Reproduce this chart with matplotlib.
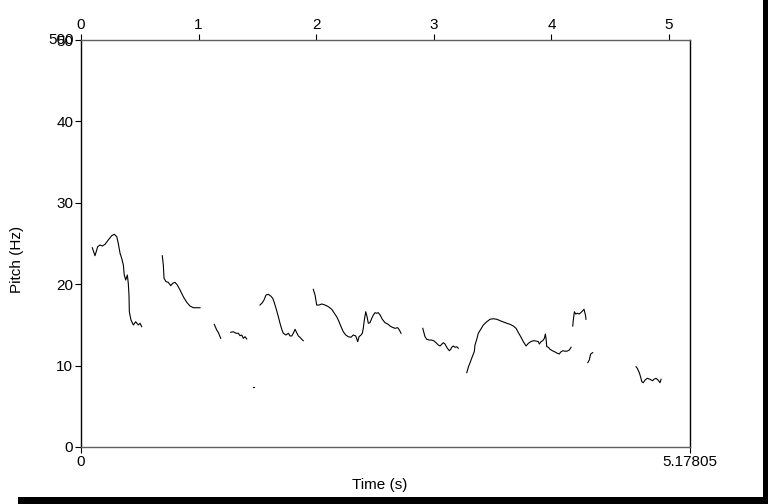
import matplotlib
matplotlib.use("Agg")
import matplotlib.pyplot as plt
import matplotlib.transforms as mtransforms
from matplotlib.patches import Rectangle

plt.rcParams['font.family'] = ['Liberation Sans', 'DejaVu Sans']

# pitch contour pieces: time (s), pitch (Hz)
seg1_t = [0.096, 0.119, 0.142, 0.162, 0.181, 0.204, 0.232, 0.261, 0.283, 0.304, 0.317, 0.332, 0.346,
          0.360, 0.368, 0.380, 0.394, 0.402, 0.408, 0.411, 0.425, 0.445, 0.465, 0.487, 0.502, 0.516]
seg1_f = [24.48, 23.50, 24.61, 24.82, 24.69, 24.90, 25.43, 25.96, 26.13, 25.84, 25.02, 23.80, 23.18,
          22.36, 21.13, 20.52, 21.13, 20.11, 18.67, 16.62, 15.60, 14.99, 15.39, 14.99, 15.20, 14.78]

seg2_t = [0.691, 0.700, 0.706, 0.723, 0.742, 0.763, 0.780, 0.799, 0.819, 0.842, 0.870, 0.899, 0.927,
          0.955, 0.984, 1.012]
seg2_f = [23.50, 22.36, 20.72, 20.31, 20.23, 19.82, 20.11, 20.23, 19.90, 19.29, 18.46, 17.78, 17.32,
          17.11, 17.11, 17.11]

seg3_t = [1.133, 1.154, 1.167, 1.188]
seg3_f = [15.07, 14.37, 14.09, 13.35]

seg4_t = [1.273, 1.295, 1.318, 1.338, 1.352, 1.367, 1.380, 1.395, 1.409]
seg4_f = [14.09, 14.16, 13.97, 13.97, 13.67, 13.76, 13.35, 13.55, 13.27]

dot_t = [1.465, 1.470]
dot_f = [7.41, 7.41]

seg5_t = [1.522, 1.542, 1.556, 1.573, 1.593, 1.613, 1.630, 1.641, 1.658, 1.678, 1.692, 1.707, 1.720,
          1.743, 1.763, 1.777, 1.792, 1.805, 1.820, 1.834, 1.848, 1.862, 1.877, 1.890]
seg5_f = [17.44, 17.73, 18.06, 18.67, 18.76, 18.55, 18.27, 17.85, 17.04, 16.01, 15.20, 14.46, 13.97,
          13.76, 13.97, 13.64, 13.64, 13.97, 14.46, 14.04, 13.64, 13.48, 13.23, 13.06]

seg6_t = [1.975, 1.990, 2.004, 2.024, 2.047, 2.075, 2.103, 2.132, 2.154, 2.174, 2.194, 2.211, 2.230,
          2.251, 2.273, 2.296, 2.315, 2.336, 2.353, 2.364, 2.381, 2.392, 2.400, 2.409, 2.421, 2.432,
          2.443, 2.457, 2.472, 2.486, 2.500, 2.514, 2.528, 2.543, 2.562, 2.585, 2.608, 2.628, 2.647,
          2.670, 2.693, 2.707, 2.721]
seg6_f = [19.37, 18.67, 17.44, 17.44, 17.57, 17.44, 17.24, 16.92, 16.43, 16.01, 15.39, 14.78, 14.16,
          13.76, 13.55, 13.48, 13.76, 13.64, 12.94, 13.55, 13.76, 13.97, 14.58, 15.60, 16.62, 16.01,
          15.20, 15.27, 15.81, 16.22, 16.50, 16.43, 16.50, 16.22, 15.69, 15.27, 15.11, 14.86, 14.71,
          14.58, 14.66, 14.37, 13.97]

seg7_t = [2.906, 2.917, 2.925, 2.940, 2.962, 2.982, 3.002, 3.019, 3.038, 3.053, 3.067, 3.081, 3.095,
          3.104, 3.115, 3.132, 3.144, 3.152, 3.166, 3.180, 3.195, 3.208]
seg7_f = [14.58, 13.97, 13.55, 13.23, 13.14, 13.14, 13.02, 12.81, 12.53, 12.41, 12.62, 12.81, 12.65,
          12.41, 12.13, 11.83, 12.00, 12.25, 12.41, 12.25, 12.32, 12.13]

seg8_t = [3.280, 3.293, 3.308, 3.322, 3.336, 3.344, 3.350, 3.365, 3.378, 3.399, 3.421, 3.450, 3.478,
          3.506, 3.535, 3.563, 3.591, 3.620, 3.648, 3.676, 3.699, 3.719, 3.739, 3.761, 3.784, 3.804,
          3.824, 3.846, 3.869, 3.889, 3.897, 3.912, 3.926, 3.940, 3.948, 3.954, 3.960, 3.974, 3.988,
          4.008, 4.031, 4.050, 4.067, 4.079, 4.096, 4.116, 4.135, 4.152, 4.167]
seg8_f = [9.13, 9.79, 10.36, 10.90, 11.43, 11.71, 12.53, 13.23, 13.97, 14.46, 14.99, 15.39, 15.69,
          15.76, 15.69, 15.52, 15.36, 15.20, 15.07, 14.86, 14.58, 14.04, 13.55, 12.94, 12.41, 12.74,
          12.94, 13.06, 13.02, 12.94, 12.65, 12.94, 13.06, 13.35, 13.88, 13.35, 12.32, 12.25, 12.00,
          11.83, 11.67, 11.51, 11.43, 11.67, 11.83, 11.76, 11.79, 11.92, 12.25]

seg9_t = [4.181, 4.186, 4.195, 4.206, 4.220, 4.237, 4.258, 4.277, 4.289, 4.294]
seg9_f = [14.86, 15.60, 16.62, 16.34, 16.43, 16.34, 16.62, 16.92, 16.22, 15.69]

seg10_t = [4.309, 4.322, 4.328, 4.334, 4.351]
seg10_f = [10.36, 10.69, 11.09, 11.43, 11.59]

seg11_t = [4.719, 4.730, 4.747, 4.759, 4.768, 4.781, 4.796, 4.815, 4.838, 4.858, 4.872, 4.889, 4.906,
           4.923, 4.932]
seg11_f = [9.86, 9.67, 9.13, 8.56, 8.02, 7.90, 8.23, 8.44, 8.32, 8.14, 8.32, 8.44, 8.23, 7.90, 8.32]

t_end = 5.17805
y_ticks = [0, 10, 20, 30, 40, 50]
top_ticks = [0, 1, 2, 3, 4, 5]

segments = [(seg1_t, seg1_f), (seg2_t, seg2_f), (seg3_t, seg3_f), (seg4_t, seg4_f),
            (dot_t, dot_f), (seg5_t, seg5_f), (seg6_t, seg6_f), (seg7_t, seg7_f),
            (seg8_t, seg8_f), (seg9_t, seg9_f), (seg10_t, seg10_f), (seg11_t, seg11_f)]

fs = 11

fig = plt.figure(figsize=(7.68, 5.04), dpi=100)
ax = fig.add_axes([81 / 768, 57 / 504, 609 / 768, 407 / 504])

for t, f in segments:
    ax.plot(t, f, color='black', lw=0.8)

ax.set_xlim(0, t_end)
ax.set_ylim(0, 50)

# bottom axis only marks the ends
ax.set_xticks([0, t_end])
ax.set_xticklabels(['0', '5.17805'])
ax.set_yticks(y_ticks)
ax.set_yticklabels([str(v) for v in y_ticks])
ax.tick_params(axis='both', direction='out', length=4, width=0.8, labelsize=fs, pad=1.5, color='black')

top = ax.secondary_xaxis('top')
top.set_xticks(top_ticks)
top.tick_params(direction='out', length=4, width=0.8, labelsize=fs, pad=1.5)
top.spines['top'].set_visible(False)

# the "500" printed over the top label
off = mtransforms.offset_copy(ax.get_yaxis_transform(), fig=fig, x=-5.5, y=0, units='points')
ax.text(0, 50, '500', ha='right', va='center', fontsize=fs, transform=off)

for s in ['top', 'bottom']:
    ax.spines[s].set_color('#606060')
    ax.spines[s].set_linewidth(1.0)
for s in ['left', 'right']:
    ax.spines[s].set_color('black')
    ax.spines[s].set_linewidth(1.0)

ax.set_xlabel('Time (s)', fontsize=fs)
ax.xaxis.set_label_coords(0.49, -0.075)
ax.set_ylabel('Pitch (Hz)', fontsize=fs)
ax.yaxis.set_label_coords(-0.094, 0.46)

# black shadow bars right and bottom
fig.patches.append(Rectangle((763 / 768, 0), 5 / 768, 1, transform=fig.transFigure,
                             facecolor='black', edgecolor='none'))
fig.patches.append(Rectangle((18 / 768, 0), 750 / 768, 7 / 504, transform=fig.transFigure,
                             facecolor='black', edgecolor='none'))

fig.savefig('out.png', dpi=100)
